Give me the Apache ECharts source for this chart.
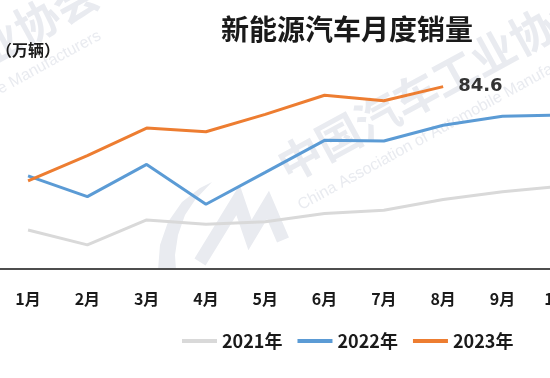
<!DOCTYPE html>
<html>
<head>
<meta charset="utf-8">
<script src="https://cdn.jsdelivr.net/npm/echarts@6/dist/echarts.min.js"></script>
<style>
  html, body { margin: 0; padding: 0; background: #fff; }
  #chart { width: 550px; height: 378px; }
</style>
</head>
<body>
<div id="chart"></div>
<script>
const months = ['1月', '2月', '3月', '4月', '5月', '6月', '7月', '8月', '9月', '10月', '11月', '12月'];
const seriesNames = ['2021年', '2022年', '2023年'];
const sales2021 = [17.9, 11.0, 22.6, 20.6, 21.7, 25.6, 27.1, 32.1, 35.7, 38.3, 45.0, 53.1];
const sales2022 = [43.1, 33.4, 48.4, 29.9, 44.7, 59.6, 59.3, 66.6, 70.8, 71.4, 78.6, 81.4];
const sales2023 = [40.8, 52.5, 65.3, 63.6, 71.7, 80.6, 78.0, 84.6];

const cjk = '"Noto Sans CJK SC", sans-serif';
const wmColor = '#e9ebf0';

// faint CAAM watermark (text is tiled, second copy peeks in top-left)
function watermark(x, y) {
  return {
    type: 'group', x: x, y: y, rotation: 0.5, silent: true, z: 0,
    children: [
      { type: 'text', x: -22, y: 0,
        style: { text: '中国汽车工业协会', font: 'bold 44px ' + cjk, fill: wmColor, verticalAlign: 'middle' } },
      { type: 'text', x: -24, y: 50,
        style: { text: 'China Association of Automobile Manufacturers', font: '16px "Liberation Sans"', fill: wmColor, verticalAlign: 'bottom' } }
    ]
  };
}

const chart = echarts.init(document.getElementById('chart'));

chart.setOption({
  animation: false,
  textStyle: { fontFamily: cjk },
  title: {
    text: '新能源汽车月度销量',
    left: 216,
    top: 10,
    textStyle: { fontSize: 28, fontWeight: 'bold', color: '#1a1a1a', fontFamily: cjk }
  },
  graphic: [
    watermark(300, 158),
    watermark(-195, 148),
    { type: 'polygon', silent: true, z: 0,
      shape: { points: [[158, 270], [160, 245], [168, 222], [182, 202], [200, 188], [212, 182],
                        [195, 200], [185, 215], [178, 235], [175, 255], [176, 270]] },
      style: { fill: wmColor } },
    { type: 'polyline', silent: true, z: 0,
      shape: { points: [[200, 262], [238, 200], [250, 235], [268, 205], [283, 240]] },
      style: { stroke: wmColor, lineWidth: 13, fill: null } },
    { type: 'text', left: -4, top: 42,
      style: { text: '（万辆）', font: 'bold 16px ' + cjk, fill: '#1a1a1a' } }
  ],
  legend: {
    data: seriesNames,
    left: 177,
    top: 327,
    icon: 'rect',
    itemWidth: 35,
    itemHeight: 4,
    itemGap: 15,
    textStyle: { fontSize: 18, fontWeight: 'bold', color: '#1a1a1a' }
  },
  // the plot runs past the right edge of the picture (only Jan-Sep fit)
  grid: { left: -1.6, width: 711.6, top: 53.5, height: 215, outerBoundsMode: 'none' },
  xAxis: {
    type: 'category', data: months, boundaryGap: true,
    axisLine: { lineStyle: { color: '#4d4d4d', width: 2 } },
    axisTick: { show: false },
    axisLabel: { color: '#1a1a1a', fontSize: 16, fontWeight: 'bold', margin: 22 }
  },
  yAxis: { type: 'value', min: 0, max: 100, show: false },
  series: [
    {
      name: seriesNames[0], type: 'line', data: sales2021, symbol: 'none',
      lineStyle: { color: '#d9d9d9', width: 3 }, itemStyle: { color: '#d9d9d9' }
    },
    {
      name: seriesNames[1], type: 'line', data: sales2022, symbol: 'none',
      lineStyle: { color: '#5b9bd5', width: 3 }, itemStyle: { color: '#5b9bd5' }
    },
    {
      name: seriesNames[2], type: 'line', data: sales2023, symbol: 'none',
      lineStyle: { color: '#ed7d31', width: 3 }, itemStyle: { color: '#ed7d31' },
      endLabel: {
        show: true,
        distance: 15,
        formatter: p => p.value,
        color: '#333',
        fontSize: 18,
        fontWeight: 'bold',
        fontFamily: '"DejaVu Sans"'
      }
    }
  ]
});
</script>
</body>
</html>
